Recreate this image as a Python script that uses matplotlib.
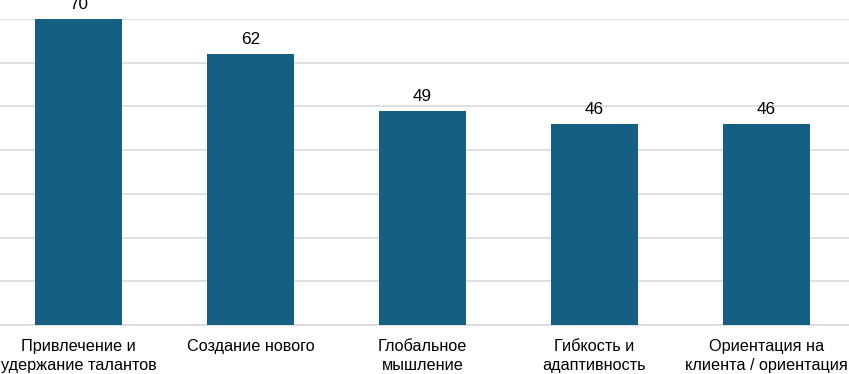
import numpy as np
import matplotlib
matplotlib.use("Agg")
from matplotlib import pyplot as plt

plt.rcParams['font.family'] = ['Liberation Sans', 'DejaVu Sans']

categories = ["Привлечение и\nудержание талантов", "Создание нового",
              "Глобальное\nмышление", "Гибкость и\nадаптивность",
              "Ориентация на\nклиента / ориентация"]
values = [70, 62, 49, 46, 46]
ticks = [0, 10, 20, 30, 40, 50, 60, 70]

bar_color = "#156082"
grid_color = "#d9d9d9"

fig = plt.figure(figsize=(8.49, 3.74), dpi=100)
ax = fig.add_axes([0, 49 / 374, 1, (325 - 19) / 374])

x = np.arange(len(categories))
bars = ax.bar(x, values, width=0.506, color=bar_color, zorder=3)

for b, v in zip(bars, values):
    ax.annotate(str(v), (b.get_x() + b.get_width() / 2, v),
                xytext=(0, 5), textcoords="offset points",
                ha="center", va="bottom", fontsize=12.3, color="#000000")

ax.set_xlim(-0.456, 4.48)
ax.set_ylim(0, 70)
ax.set_yticks(ticks)
ax.yaxis.grid(True, color=grid_color, linewidth=1.2, zorder=0)
ax.tick_params(axis="y", left=False, labelleft=False)
ax.set_xticks(x)
ax.set_xticklabels(categories, fontsize=11.7, color="#000000", linespacing=1.35)
ax.tick_params(axis="x", length=0, pad=10)

for s in ["top", "left", "right"]:
    ax.spines[s].set_visible(False)
ax.spines["bottom"].set_color(grid_color)
ax.spines["bottom"].set_linewidth(1.2)

fig.savefig("out.png", dpi=100)
